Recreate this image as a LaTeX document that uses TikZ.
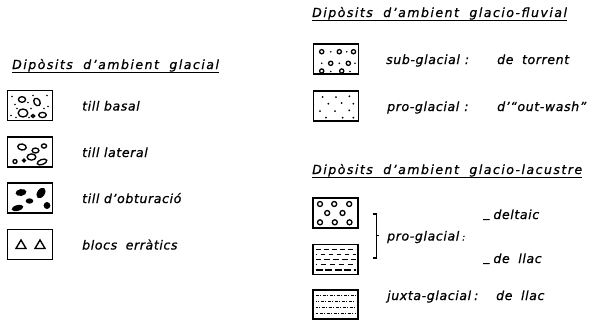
\documentclass[tikz,border=0pt]{standalone}
\usepackage{fontspec}
\newfontfamily\lett[LetterSpace=5,FakeBold=0.8]{DejaVu Sans}
\newfontfamily\lettw[LetterSpace=12,FakeBold=0.8]{DejaVu Sans}
\begin{document}
\begin{tikzpicture}[x=1pt,y=-1pt,
  legbox/.style={draw, line width=1.6pt, minimum width=45pt, minimum height=30pt, inner sep=0pt},
  lab/.style={anchor=base west, inner sep=0pt, font=\lett\itshape\fontsize{12.5}{14}\selectfont},
  ttl/.style={anchor=base west, inner sep=0pt, font=\lettw\itshape\fontsize{12.5}{14}\selectfont},
  tex/.style={line width=1.35pt},
  uline/.style={line width=1pt}]
\useasboundingbox (0,0) rectangle (597,322);

% boxes
\node[legbox] (b1) at (30,105.5) {};
\node[legbox] (b2) at (30,152) {};
\node[legbox] (b3) at (30,198) {};
\node[legbox] (b4) at (30,244.5) {};
\node[legbox] (bA) at (336,59) {};
\node[legbox] (bB) at (336,106) {};
\node[legbox] (bC) at (335.5,213) {};
\node[legbox] (bD) at (335.5,259.5) {};
\node[legbox, minimum height=29pt] (bE) at (335.5,304.5) {};

% labels
\node[ttl] (t1) at (12,69) {Dipòsits\hspace{5pt} d’ambient\hspace{5pt} glacial};
\node[lab] (l1) at (82,110.5) {till basal};
\node[lab] (l2) at (82,157) {till lateral};
\node[lab] (l3) at (82,203) {till d’obturació};
\node[lab] (l4) at (82,249.5) {blocs\hspace{4pt} erràtics};
\node[ttl] (t2) at (312,17) {Dipòsits\hspace{5pt} d’ambient\hspace{5pt} glacio-fluvial};
\node[lab] (lA) at (386,64) {sub-glacial\hspace{5pt}:};
\node[lab] (lA2) at (497,64) {de\hspace{4pt} torrent};
\node[lab] (lB) at (387,111) {pro-glacial\hspace{5pt}:};
\node[lab] (lB2) at (497,111) {d’“out-wash”};
\node[ttl] (t3) at (312,174) {Dipòsits\hspace{5pt} d’ambient\hspace{5pt} glacio-lacustre};
\node[lab] (lC) at (387,240.5) {pro-glacial\hspace{3pt}{\small :}};
\node[lab] (lC1) at (483,219) {\raisebox{2pt}{\_}\hspace{4pt}deltaic};
\node[lab] (lC2) at (483,263) {\raisebox{2pt}{\_}\hspace{4pt}de\hspace{4pt} llac};
\node[lab] (lE) at (387,300) {juxta-glacial\hspace{3pt}:};
\node[lab] (lE2) at (496,300) {de\hspace{4pt} llac};

% underlines
\foreach \t in {t1,t2,t3}
  \draw[uline] ([yshift=-3pt]\t.base west) -- ([yshift=-3pt]\t.base east);

% bracket
\draw[line width=1.1pt] (372.5,214) -- (376.5,214) -- (376.5,258) -- (372.5,258)
  (376.5,235.5) -- (379,235.5);

% till basal
\begin{scope}[shift={(b1.center)}]
  \draw[tex] (-8,-6) ellipse [x radius=3.6, y radius=2.8];
  \draw[tex] (7,-3.5) ellipse [x radius=3, y radius=4, rotate=30];
  \draw[tex] (-7,7.5) ellipse [x radius=4.8, y radius=4];
  \draw[tex] (12.5,9.5) ellipse [x radius=3.8, y radius=2.6];
  \draw[tex] (3,10.5) ellipse [x radius=1.7, y radius=1.5];
  \foreach \p in {(-18,-9),(-15,-1),(-19,10),(-2,-3),(17,-10),(18,1),(1,3),(-1,12),(14,3),(-13,3),(3,-10),(-14,12)}
    \fill \p circle [radius=0.85];
\end{scope}

% till lateral
\begin{scope}[shift={(b2.center)}]
  \draw[tex] (-8,-5) ellipse [x radius=4.3, y radius=3, rotate=-10];
  \draw[tex] (14,-6) ellipse [x radius=2.6, y radius=2.1];
  \draw[tex] (5.5,-1.5) ellipse [x radius=3.4, y radius=2.5];
  \draw[tex] (1.5,5) ellipse [x radius=4.4, y radius=3.1];
  \draw[tex] (-15,9.5) circle [radius=2];
  \draw[tex] (-6,8.5) circle [radius=1.4];
  \draw[tex] (12,10) ellipse [x radius=5, y radius=2.5, rotate=20];
\end{scope}

% till d'obturacio
\begin{scope}[shift={(b3.center)}]
  \fill (-9,-5.5) ellipse [x radius=5.5, y radius=3.4, rotate=10];
  \fill (11,-5) ellipse [x radius=3.8, y radius=5.8, rotate=-35];
  \fill (-0.5,3) ellipse [x radius=3.8, y radius=2.7];
  \fill (-12.5,10) ellipse [x radius=6, y radius=2.9, rotate=15];
  \fill (17,7.5) ellipse [x radius=3.4, y radius=3.5];
\end{scope}

% blocs erratics
\begin{scope}[shift={(b4.center)}, line width=1.4pt, line join=miter]
  \draw (-9,-4.5) -- (-4,4) -- (-14,4) -- cycle;
  \draw (10,-4.5) -- (15,4) -- (5,4) -- cycle;
\end{scope}

% sub-glacial
\begin{scope}[shift={(bA.center)}]
  \foreach \p in {(-14.3,-7.3),(3.3,-7.3),(17.5,-7.3),(-5.3,4.3),(12.3,4.3),(-14.3,12),(5.7,12)}
    \draw[line width=1.3pt] \p circle [radius=2.1];
  \foreach \p in {(-5.3,-7.3),(10.7,-7.3),(-14.3,4.3),(3.3,4.3),(19,4.3),(-5.3,12.5),(14,12.5)}
    \fill \p circle [radius=0.9];
\end{scope}

% pro-glacial out-wash
\begin{scope}[shift={(bB.center)}]
  \foreach \p in {(-13.3,-9),(0,-9),(13.3,-9.7),(-7.7,-2.3),(5.7,-3),(17.3,-2.3),(-16,5),(-1,5),(13.3,4.3),(-10,11.7),(6.7,11.7),(17.3,11.7)}
    \fill \p circle [radius=1];
\end{scope}

% deltaic
\begin{scope}[shift={(bC.center)}]
  \foreach \p in {(-15.5,-9),(-1.3,-9),(13.7,-9),(-8.3,0),(7,0),(-15.5,9.3),(-0.7,9.3),(14,9.3)}
    \draw[line width=1.3pt] \p circle [radius=2.5];
\end{scope}

% de llac (pro-glacial)
\begin{scope}[shift={(bD.center)}]
  \draw[line width=1pt, dash pattern=on 5pt off 3pt] (-20,-10.5) -- (20,-10.5);
  \draw[line width=1pt, dash pattern=on 4pt off 4pt, dash phase=3pt] (-20,-5.5) -- (20,-5.5);
  \draw[line width=1pt, dash pattern=on 6pt off 3pt, dash phase=1pt] (-20,-0.5) -- (20,-0.5);
  \draw[line width=1pt, dash pattern=on 5pt off 4pt, dash phase=4pt] (-20,4.5) -- (20,4.5);
  \draw[line width=1.6pt, dash pattern=on 7pt off 2.5pt] (-20,10.5) -- (20,10.5);
\end{scope}

% juxta-glacial de llac
\begin{scope}[shift={(bE.center)}, line width=0.9pt]
  \foreach \y/\ph in {-9/0,-3/2,3/1,9/3}
    \draw[dash pattern=on 3.5pt off 1.3pt on 0.9pt off 1.3pt, dash phase=\ph pt] (-20,\y) -- (20,\y);
\end{scope}
\end{tikzpicture}
\end{document}
